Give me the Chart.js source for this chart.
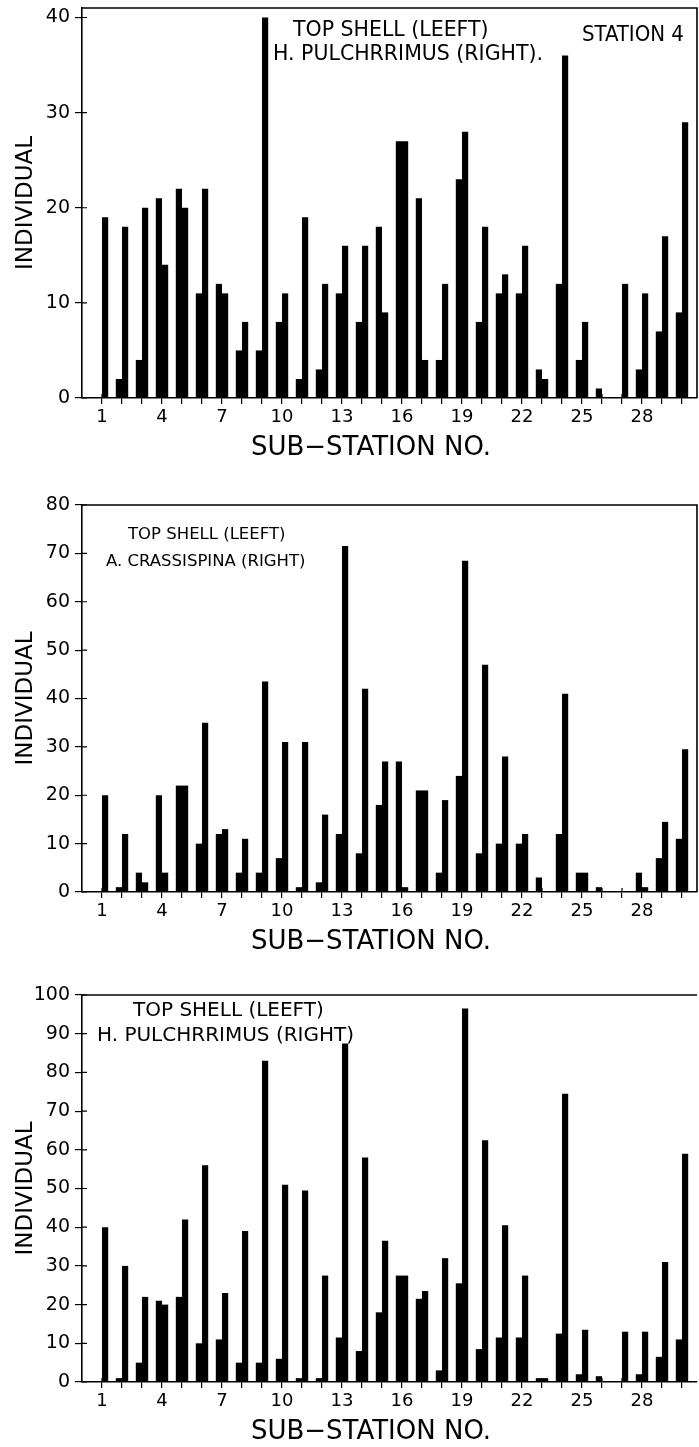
<!DOCTYPE html>
<html>
<head>
<meta charset="utf-8">
<title>Station 4 - sub-station counts</title>
<script src="https://cdn.jsdelivr.net/npm/chart.js@4.4.1/dist/chart.umd.min.js"></script>
<style>
    body { margin: 0; background: #fff; width: 699px; height: 1447px; overflow: hidden; }
    canvas { position: absolute; left: 0; }
</style>
</head>
<body>
<canvas id="panel1" width="699" height="480" style="top:0px"></canvas>
<canvas id="panel2" width="699" height="480" style="top:480px"></canvas>
<canvas id="panel3" width="699" height="487" style="top:960px"></canvas>
<script>
// sub-stations on the x axis, and the ones that carry a label
var stations = [1, 2, 3, 4, 5, 6, 7, 8, 9, 10, 11, 12, 13, 14, 15,
                16, 17, 18, 19, 20, 21, 22, 23, 24, 25, 26, 27, 28, 29, 30];
var labelledStations = [1, 4, 7, 10, 13, 16, 19, 22, 25, 28];

// panel 1 : top shell (left) / H. pulchrrimus (right)
var topShell1 = [0, 2, 4, 21, 22, 11, 12, 5, 5, 8, 2, 3, 11, 8, 18,
                 27, 21, 4, 23, 8, 11, 11, 3, 12, 4, 1, 0, 3, 7, 9];
var pulchrrimus1 = [19, 18, 20, 14, 20, 22, 11, 8, 40, 11, 19, 12, 16, 16, 9,
                    27, 4, 12, 28, 18, 13, 16, 2, 36, 8, 0, 12, 11, 17, 29];

// panel 2 : top shell (left) / A. crassispina (right)
var topShell2 = [0, 1, 4, 20, 22, 10, 12, 4, 4, 7, 1, 2, 12, 8, 18,
                 27, 21, 4, 24, 8, 10, 10, 3, 12, 4, 1, 0, 4, 7, 11];
var crassispina2 = [20, 12, 2, 4, 22, 35, 13, 11, 43.5, 31, 31, 16, 71.5, 42, 27,
                    1, 21, 19, 68.5, 47, 28, 12, 0, 41, 4, 0, 0, 1, 14.5, 29.5];

// panel 3 : top shell (left) / H. pulchrrimus (right)
var topShell3 = [0, 1, 5, 21, 22, 10, 11, 5, 5, 6, 1, 1, 11.5, 8, 18,
                 27.5, 21.5, 3, 25.5, 8.5, 11.5, 11.5, 1, 12.5, 2, 1.5, 0, 2, 6.5, 11];
var pulchrrimus3 = [40, 30, 22, 20, 42, 56, 23, 39, 83, 51, 49.5, 27.5, 87.5, 58, 36.5,
                    27.5, 23.5, 32, 96.5, 62.5, 40.5, 27.5, 1, 74.5, 13.5, 0, 13, 13, 31, 59];

var yTitle = 'INDIVIDUAL';
var xTitle = 'SUB\u2212STATION NO.';

function points(values) {
    return stations.map(function (s, i) { return { x: s, y: values[i] }; });
}

// top / right frame lines, "+" ticks crossing the axes, x title and the notes
var framePlugin = {
    id: 'frame',
    afterDraw: function (chart) {
        var o = chart.options.plugins.frame;
        var a = chart.chartArea;
        var ctx = chart.ctx;
        var xs = chart.scales.x, ys = chart.scales.y;
        ctx.save();
        ctx.strokeStyle = '#000';
        ctx.lineWidth = 1.6;
        ctx.beginPath();
        ctx.moveTo(a.left, a.top);
        ctx.lineTo(a.right, a.top);
        if (o.rightBorder) {
            ctx.lineTo(a.right, a.bottom);
        }
        ctx.stroke();
        ctx.lineWidth = 1.2;
        ctx.beginPath();
        xs.ticks.forEach(function (t) {
            var px = xs.getPixelForValue(t.value);
            ctx.moveTo(px, a.bottom);
            ctx.lineTo(px, a.bottom - 4);
        });
        ys.ticks.forEach(function (t) {
            var py = ys.getPixelForValue(t.value);
            ctx.moveTo(a.left, py);
            ctx.lineTo(a.left + 5, py);
        });
        ctx.stroke();
        ctx.fillStyle = '#000';
        ctx.textBaseline = 'middle';
        ctx.textAlign = 'center';
        ctx.font = '26px "DejaVu Sans"';
        ctx.fillText(xTitle, 371, a.bottom + o.titleGap);
        ctx.textAlign = 'left';
        o.notes.forEach(function (n) {
            ctx.font = n.font;
            ctx.fillText(n.text, n.x, n.y);
        });
        ctx.restore();
    }
};

function makePanel(id, left, right, yMax, p) {
    var canvas = document.getElementById(id);
    var H = canvas.height;
    return new Chart(canvas.getContext('2d'), {
        type: 'bar',
        data: {
            datasets: [{
                label: 'TOP SHELL',
                data: points(left),
                backgroundColor: '#000',
                borderWidth: 0
            }, {
                label: p.rightName,
                data: points(right),
                backgroundColor: '#000',
                borderWidth: 0
            }]
        },
        options: {
            responsive: false,
            animation: false,
            events: [],
            layout: { padding: { top: p.top, right: 2, left: 0, bottom: 0 } },
            datasets: { bar: { categoryPercentage: 0.62, barPercentage: 1.0 } },
            plugins: {
                legend: { display: false },
                tooltip: { enabled: false },
                frame: { rightBorder: p.rightBorder, notes: p.notes, titleGap: 50 }
            },
            scales: {
                x: {
                    type: 'linear',
                    offset: false,
                    min: 0,
                    max: 30.75,
                    afterBuildTicks: function (scale) {
                        scale.ticks = stations.map(function (s) { return { value: s }; });
                    },
                    afterFit: function (scale) {
                        scale.height = H - p.bottom;
                        scale.paddingLeft = 0;
                        scale.paddingRight = 0;
                    },
                    ticks: {
                        autoSkip: false,
                        maxRotation: 0,
                        padding: 3,
                        color: '#000',
                        font: { family: 'DejaVu Sans', size: 18 },
                        callback: function (v) {
                            return labelledStations.indexOf(v) >= 0 ? String(v) : '';
                        }
                    },
                    grid: { offset: false, drawOnChartArea: false, tickLength: 6, color: '#000', lineWidth: 1.2 },
                    border: { color: '#000', width: 1.6 },
                    title: { display: false }
                },
                y: {
                    min: 0,
                    max: yMax,
                    ticks: {
                        padding: 5,
                        color: '#000',
                        font: { family: 'DejaVu Sans', size: 19 }
                    },
                    afterBuildTicks: function (scale) {
                        var t = [];
                        for (var v = 0; v <= yMax; v += 10) {
                            t.push({ value: v });
                        }
                        scale.ticks = t;
                    },
                    afterFit: function (scale) {
                        scale.width = 82;
                        scale.paddingTop = 0;
                        scale.paddingBottom = 0;
                    },
                    grid: { drawOnChartArea: false, tickLength: 7, color: '#000', lineWidth: 1.2 },
                    border: { color: '#000', width: 1.6 },
                    title: {
                        display: true,
                        text: yTitle,
                        color: '#000',
                        font: { family: 'DejaVu Sans', size: 23 },
                        padding: { top: 12, bottom: 0 }
                    }
                }
            }
        },
        plugins: [framePlugin]
    });
}

makePanel('panel1', topShell1, pulchrrimus1, 41, {
    top: 8, bottom: 398, rightBorder: true,
    rightName: 'H. PULCHRRIMUS',
    notes: [
        { text: 'TOP SHELL (LEEFT)', x: 293, y: 31, font: '20.5px "DejaVu Sans"' },
        { text: 'H. PULCHRRIMUS (RIGHT).', x: 273, y: 55, font: '20.5px "DejaVu Sans"' },
        { text: 'STATION 4', x: 582, y: 35, font: '22px "Liberation Sans Narrow", "DejaVu Sans Condensed", sans-serif' }
    ]
});

makePanel('panel2', topShell2, crassispina2, 80, {
    top: 25, bottom: 412, rightBorder: true,
    rightName: 'A. CRASSISPINA',
    notes: [
        { text: 'TOP SHELL (LEEFT)', x: 128, y: 55, font: '16.5px "DejaVu Sans"' },
        { text: 'A. CRASSISPINA (RIGHT)', x: 106, y: 82, font: '16.5px "DejaVu Sans"' }
    ]
});

makePanel('panel3', topShell3, pulchrrimus3, 100, {
    top: 35, bottom: 422, rightBorder: false,
    rightName: 'H. PULCHRRIMUS',
    notes: [
        { text: 'TOP SHELL (LEEFT)', x: 133, y: 51, font: '20px "DejaVu Sans"' },
        { text: 'H. PULCHRRIMUS (RIGHT)', x: 97, y: 76, font: '20px "DejaVu Sans"' }
    ]
});
</script>
</body>
</html>
